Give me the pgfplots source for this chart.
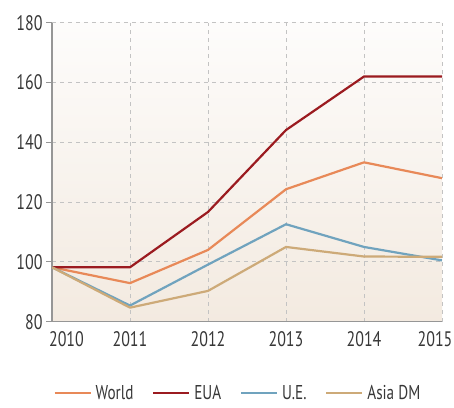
\documentclass[border=0pt]{standalone}
\usepackage{fontspec}
\setmainfont{PT Sans}[FakeStretch=0.76]
\usepackage{pgfplots}
\pgfplotsset{compat=1.18}
\definecolor{cWorld}{RGB}{232,137,88}
\definecolor{cEUA}{RGB}{155,27,32}
\definecolor{cUE}{RGB}{112,163,190}
\definecolor{cAsia}{RGB}{205,170,120}
\definecolor{txt}{RGB}{55,55,55}
\definecolor{gridc}{RGB}{195,195,195}
\definecolor{axc}{RGB}{150,150,150}
\definecolor{bgtop}{RGB}{253,252,251}
\definecolor{bgbot}{RGB}{243,234,224}

\begin{document}
\begin{tikzpicture}
\useasboundingbox (0pt,0pt) rectangle (454pt,407pt);
\begin{axis}[
    at={(52pt,85.3pt)}, anchor=south west,
    width=390pt, height=299pt, scale only axis,
    xmin=2010, xmax=2015, ymin=80, ymax=180,
    xtick={2010,2011,...,2015}, ytick={80,100,...,180},
    xticklabels={\hspace*{29pt}2010, 2011, 2012, 2013, 2014, 2015\hspace*{14pt}},
    /pgf/number format/1000 sep={},
    /pgf/number format/assume math mode=true,
    axis x line*=bottom, axis y line*=left,
    axis line style={-, draw=axc, line width=1.2pt},
    grid=major,
    grid style={dash pattern=on 4pt off 4pt, draw=gridc, line width=0.9pt},
    tick align=outside,
    ytick style={draw=axc, line width=1pt},
    major tick length=6pt,
    xtick style={draw=none},
    ticklabel style={font=\fontsize{21}{24}\selectfont, text=txt},
    axis background/.style={shade, top color=bgtop, bottom color=bgbot},
    legend style={at={(0.477,-0.238)}, anchor=center, draw=none, fill=none,
        font=\fontsize{20}{22}\selectfont, text=txt, legend columns=4,
        inner sep=0pt, nodes={inner sep=2pt},
        /tikz/every even column/.append style={column sep=17pt},
        /tikz/every odd column/.append style={column sep=2pt}},
    legend image code/.code={\draw[#1, line width=1.8pt] (0pt,0pt) -- (36pt,0pt);},
    every axis plot/.append style={line width=2.2pt, line join=round},
]
\addplot[cWorld] coordinates {(2010,98.2) (2011,92.9) (2012,104.0) (2013,124.3) (2014,133.3) (2015,128.0)};
\addlegendentry{World}
\addplot[cEUA] coordinates {(2010,98.2) (2011,98.2) (2012,116.7) (2013,144.1) (2014,162.0) (2015,162.0)};
\addlegendentry{EUA}
\addplot[cUE] coordinates {(2010,98.2) (2011,85.4) (2012,99.1) (2013,112.6) (2014,105.0) (2015,100.5)};
\addlegendentry{U.E.}
\addplot[cAsia] coordinates {(2010,98.2) (2011,84.7) (2012,90.3) (2013,105.0) (2014,101.8) (2015,101.7)};
\addlegendentry{Asia DM}
\end{axis}
\end{tikzpicture}
\end{document}
